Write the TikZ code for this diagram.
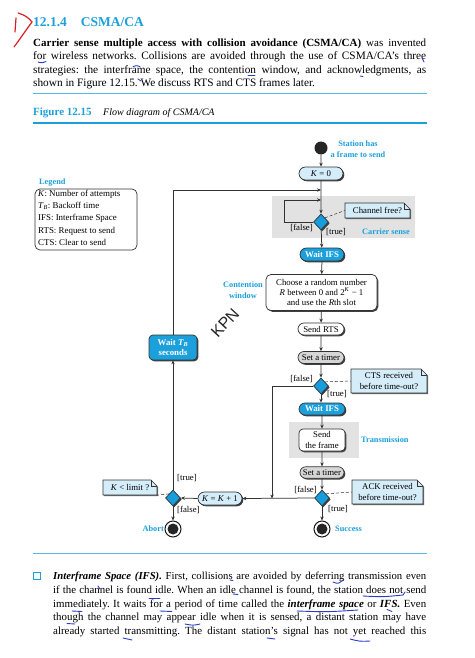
\documentclass[tikz,border=0pt]{standalone}
\usepackage{fontspec}
\setmainfont{Liberation Serif}
\newfontfamily\kpnfont{Liberation Sans}
\usetikzlibrary{shapes.geometric,shapes.misc,shadows,arrows.meta,calc}
\definecolor{csblue}{RGB}{28,160,220}
\definecolor{cslight}{RGB}{212,237,249}
\definecolor{csgrayreg}{RGB}{226,226,226}
\definecolor{csgraybox}{RGB}{214,214,214}
\definecolor{csline}{RGB}{50,50,50}
\definecolor{csdia}{RGB}{22,158,220}
\definecolor{penblue}{RGB}{40,60,200}
\definecolor{penred}{RGB}{220,30,40}
\frenchspacing
\newcommand\dfont{\fontsize{8.8}{10.2}\selectfont}
\newcommand\lfont{\fontsize{8.3}{11.5}\selectfont\bfseries}
\newcommand\mknote[6]{%
  \path[fill=cslight, draw=csline, line width=0.6pt, drop shadow={shadow xshift=1pt,shadow yshift=-1pt,fill=black!60,opacity=1}]
    (#2,#3) -- (#4-6,#3) -- (#4,#3+6) -- (#4,#5) -- (#2,#5) -- cycle;
  \draw[csline, line width=0.6pt] (#4-6,#3) -- (#4-6,#3+6) -- (#4,#3+6);
  \node[font=\dfont, align=center, inner sep=0pt, minimum width={#4pt-#2pt}, minimum height={#5pt-#3pt}] (#1) at ({(#2+#4)/2},{(#3+#5)/2}) {#6};}
\tikzset{
 shd/.style={drop shadow={shadow xshift=1.3pt,shadow yshift=-1.3pt,fill=black!75,opacity=1}},
 pill/.style={rounded rectangle, draw=csline, line width=0.7pt, fill=cslight, shd, minimum width=46pt, minimum height=13pt, inner sep=1pt, font=\dfont},
 cpill/.style={pill, fill=csblue, text=white, font=\dfont\bfseries},
 gpill/.style={pill, fill=csgraybox},
 rbox/.style={rectangle, rounded corners=4pt, draw=csline, line width=0.7pt, fill=white, shd, font=\dfont, align=center, inner sep=1pt},
 dia/.style={diamond, draw=csline, line width=0.7pt, fill=csdia, minimum width=15pt, minimum height=16pt, inner sep=0pt, shd},
 arr/.style={draw=csline, line width=0.75pt, -{Stealth[length=4pt,width=3.4pt]}},
 lnk/.style={draw=csline, line width=0.5pt, densely dashed},
 lbl/.style={font=\lfont, text=csblue, align=center, inner sep=0pt},
 cond/.style={font=\dfont, inner sep=0pt},
 para/.style={anchor=base west, inner sep=0pt, font=\fontsize{11.3}{13.5}\selectfont},
 parb/.style={anchor=base west, inner sep=0pt, font=\fontsize{10.9}{13.5}\selectfont},
 term/.style={circle, draw=black!90, line width=1pt, fill=white, minimum size=16pt, inner sep=0pt},
 pen/.style={draw=penblue, line width=0.9pt, line cap=round},
}
\begin{document}
\begin{tikzpicture}[x=1pt,y=-1pt]
\useasboundingbox (0,0) rectangle (474,658);
\fill[white] (0,0) rectangle (474,658);
% ---------- header text ----------
\node[anchor=base west, inner sep=0pt, text=csblue, font=\fontsize{13.5}{16}\selectfont\bfseries] (head) at (33,27) {12.1.4\hspace{14pt}CSMA/CA};
\node[para, font=\fontsize{11}{13.5}\selectfont] (p1) at (33,46.5) {\makebox[393pt][s]{\textbf{Carrier sense multiple access with collision avoidance (CSMA/CA)} was invented}};
\node[para] (p2) at (33,60) {\makebox[393pt][s]{for wireless networks. Collisions are avoided through the use of CSMA/CA's three}};
\node[para] (p3) at (33,73.5) {\makebox[393pt][s]{strategies: the interframe space, the contention window, and acknowledgments, as}};
\node[para] (p4) at (33,86.5) {shown in Figure 12.15. We discuss RTS and CTS frames later.};
\draw[csblue!75, line width=0.8pt] (33,93) -- (427,93);
\node[anchor=base west, inner sep=0pt, font=\fontsize{11}{12}\selectfont\bfseries, text=csblue] (figlbl) at (33,115.5) {Figure 12.15};
\node[anchor=base west, inner sep=0pt, font=\fontsize{10}{12}\selectfont\itshape] (figttl) at (103,115.5) {Flow diagram of CSMA/CA};
\draw[csblue, line width=1.8pt] (33,123) -- (427,123);
% ---------- regions ----------
\fill[csgrayreg] (272,196) rectangle (415,238);
\fill[csgrayreg] (289,422) rectangle (359,458);
% ---------- legend ----------
\node[lbl, anchor=west] (leghead) at (39,183) {Legend};
\node[draw=csline, line width=0.7pt, rounded corners=5pt, fill=white, minimum width=102pt, minimum height=61pt, inner sep=0pt] (legend) at (86,219.5) {};
\node[anchor=north west, align=left, font=\fontsize{8.9}{12.2}\selectfont, inner sep=0pt] (legtxt) at (38,190) {\textit{K}: Number of attempts\\\textit{T}\textsubscript{\textit{B}}: Backoff time\\IFS: Interframe Space\\RTS: Request to send\\CTS: Clear to send};
% ---------- flow nodes ----------
\node[circle, fill=black!85, minimum size=13pt, inner sep=0pt] (start) at (321,148) {};
\node[lbl] (stlbl) at (358,149) {Station has\\a frame to send};
\node[pill] (k0) at (321,173.5) {\textit{K} = 0};
\coordinate (j1) at (321,190);
\coordinate (j2) at (321,200);
\node[dia] (d1) at (321,222) {};
\node[cpill] (wifs1) at (322,254.5) {Wait IFS};
\node[rbox, minimum width=111pt, minimum height=36pt, rounded corners=5pt] (choose) at (321.5,292.5) {Choose a random number\\\textit{R} between 0 and 2\textsuperscript{\textit{K}} − 1\\and use the \textit{R}th slot};
\node[pill, fill=white, minimum width=48pt, minimum height=12pt] (rts) at (321,329) {Send RTS};
\node[gpill, minimum width=48pt, minimum height=12pt] (timer1) at (321,357.5) {Set a timer};
\node[dia] (d2) at (321,386) {};
\node[cpill, minimum width=48pt, minimum height=12pt] (wifs2) at (322,409) {Wait IFS};
\node[rbox, minimum width=46pt, minimum height=22pt] (frame) at (322,440) {Send\\the frame};
\node[gpill, minimum width=46pt, minimum height=11.5pt] (timer2) at (322,472.5) {Set a timer};
\node[dia] (d3) at (322,498) {};
\node[term] (success) at (322,529) {};
\fill[black!85] (success.center) circle (5.5pt);
\node[pill, minimum width=46pt, minimum height=13pt] (kk1) at (220,498.5) {\textit{K} = \textit{K} + 1};
\node[dia] (d4) at (173,498) {};
\node[term] (abort) at (173,529) {};
\fill[black!85] (abort.center) circle (5.5pt);
\node[rbox, fill=csblue, text=white, font=\dfont\bfseries, minimum width=48pt, minimum height=25pt] (wtb) at (173,347.5) {Wait \textit{T}\textsubscript{\textit{B}}\\seconds};
\coordinate (j3) at (272,498.5);
\coordinate (c1) at (284,222);
% ---------- labels ----------
\node[lbl, anchor=west] (cslbl) at (362,232) {Carrier sense};
\node[lbl] (cwlbl) at (243,290) {Contention\\window};
\node[lbl, anchor=west] (trlbl) at (361,440) {Transmission};
\node[lbl, anchor=east] (ablbl) at (164,529) {Abort};
\node[lbl, anchor=west] (sclbl) at (335,529) {Success};
\node[cond, anchor=east] (f1) at (313,228) {[false]};
\node[cond, anchor=west] (t1) at (326,232) {[true]};
\node[cond, anchor=east] (f2) at (313,378.5) {[false]};
\node[cond, anchor=west] (t2) at (327,394) {[true]};
\node[cond, anchor=east] (f3) at (317,490) {[false]};
\node[cond, anchor=west] (t3) at (328,509) {[true]};
\node[cond, anchor=west] (t4) at (177,478) {[true]};
\node[cond, anchor=west] (f4) at (177,510) {[false]};
% ---------- notes ----------
\mknote{n1}{345}{203}{410}{218}{Channel free?}
\mknote{n2}{351}{369}{427}{393}{CTS received\\before time-out?}
\mknote{n3}{352}{480}{423}{504}{ACK received\\before time-out?}
\mknote{n4}{103}{480}{157}{495}{\textit{K} < limit ?}
\draw[lnk] (d1.north east) -- (n1.west);
\draw[lnk] (d2.north east) -- (n2.west);
\draw[lnk] (d3.north east) -- (n3.west);
\draw[lnk] (d4.north west) -- (n4.south east);
% ---------- connectors ----------
\draw[arr] (start) -- (k0);
\draw[arr] (k0) -- (d1);
\draw[arr] (wtb.north) |- (j1);
\draw[arr] (d1.west) -- (c1) |- (j2);
\draw[arr] (d1) -- (wifs1);
\draw[arr] (wifs1) -- (choose);
\draw[arr] (choose) -- (rts);
\draw[arr] (rts) -- (timer1);
\draw[arr] (timer1) -- (d2);
\draw[arr] (d2.south) -- (d2.south |- wifs2.north);
\draw[arr] (wifs2) -- (frame);
\draw[arr] (frame) -- (timer2);
\draw[arr] (timer2) -- (d3);
\draw[arr] (d3) -- (success);
\draw[arr] (d2.west) -| (j3);
\draw[arr] (d3.west) -- (kk1.east);
\draw[arr] (kk1.west) -- (d4.east);
\draw[arr] (d4) -- (abort);
\draw[arr] (d4.north) -- (wtb.south);
% ---------- watermark ----------
\node[rotate=47, font=\kpnfont\fontsize{16}{16}\selectfont, text=black!85, inner sep=0pt] (kpn) at (225,323) {KPN};
% ---------- bottom text ----------
\draw[csblue!75, line width=0.8pt] (33,553) -- (427,553);
\draw[csblue, line width=0.8pt, fill=white, drop shadow={shadow xshift=0.8pt,shadow yshift=-0.8pt,fill=black!40,opacity=1}] (33.5,572.5) rectangle (40,579);
\node[parb, font=\fontsize{10.7}{13.5}\selectfont] (b1) at (53,579.5) {\makebox[373pt][s]{\textbf{\textit{Interframe Space (IFS).}} First, collisions are avoided by deferring transmission even}};
\node[parb] (b2) at (53,593.3) {\makebox[373pt][s]{if the channel is found idle. When an idle channel is found, the station does not send}};
\node[parb] (b3) at (53,607) {\makebox[373pt][s]{immediately. It waits for a period of time called the \textbf{\textit{interframe space}} or \textbf{\textit{IFS.}} Even}};
\node[parb] (b4) at (53,620.7) {\makebox[373pt][s]{though the channel may appear idle when it is sensed, a distant station may have}};
\node[parb] (b5) at (53,634.4) {\makebox[373pt][s]{already started transmitting. The distant station's signal has not yet reached this}};
% ---------- pen marks ----------
\draw[penred, line width=1.2pt, line cap=round] (16,18) -- (15,32);
\draw[penred, line width=1.2pt, line cap=round] (18,13) .. controls (25,15) and (29,18) .. (32,22) .. controls (26,30) and (20,39) .. (14,47);
\draw[pen] (38,62) .. controls (42,63) .. (46,61.5);
\draw[pen] (422,58) -- (424,62);
\draw[pen] (133,66.5) .. controls (136,65.5) .. (140,66.5);
\draw[pen] (248,75) -- (255,75);
\draw[pen] (360,76) -- (363,76.5);
\draw[pen] (138,79) -- (141,81);
\draw[pen] (230,580) -- (233,580.5);
\draw[pen] (333,582) .. controls (338,584) .. (343,580);
\draw[pen] (98,586) -- (100,589);
\draw[pen] (233,594) -- (238,594.5);
\draw[pen] (363,596) .. controls (383,597) .. (403,595) -- (405,592);
\draw[pen] (72,611) -- (82,611.5);
\draw[pen] (149,598) -- (160,598);
\draw[pen] (160,611) -- (172,611.5);
\draw[pen] (297,611) .. controls (327,612) .. (358,610);
\draw[pen] (387,609.5) -- (392,611.5);
\draw[pen] (67,623.5) -- (75,624);
\draw[pen] (185,624) .. controls (193,625.5) .. (200,624);
\draw[pen] (123,638) -- (132,640);
\draw[pen] (267,638) -- (275,639);
\draw[pen] (350,639) .. controls (360,641.5) .. (370,641);
\end{tikzpicture}
\end{document}
